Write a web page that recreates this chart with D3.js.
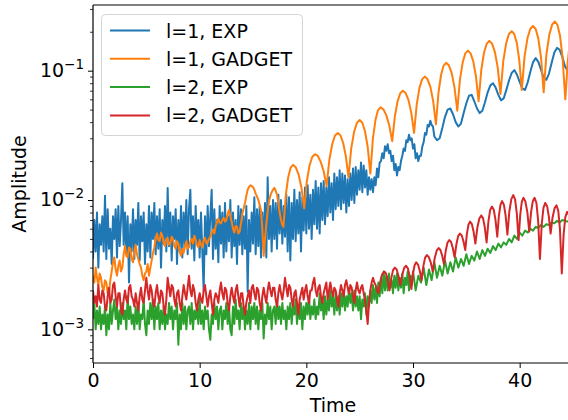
<!DOCTYPE html>
<html><head><meta charset="utf-8">
<script src="https://cdn.jsdelivr.net/npm/d3@7"></script>
<style>body{margin:0;background:#fff}svg{display:block;font-family:"DejaVu Sans",sans-serif}</style>
</head><body><svg id="c" width="568" height="420"></svg>
<script>
// ---------- data (amplitudes in units of 1e-3) ----------
const seriesNames = ["l=1, EXP", "l=1, GADGET", "l=2, EXP", "l=2, GADGET"];
const seriesColors = ["#1f77b4", "#ff7f0e", "#2ca02c", "#d62728"];
const denseStep = 0.125;  // sample spacing of the noisy early parts (start at t = 0)
const coarseStep = 0.25;  // sample spacing of the smoother EXP late parts

// l=1 EXP
const expL1Early = [
 3.5,7.0,4.0,8.0,3.0,6.5,4.5,7.5,
 4.0,10.8,3.5,8.5,4.2,6.0,3.2,7.5,
 5.0,8.5,3.6,9.0,4.4,7.0,13.5,4.5,
 8.0,3.8,7.5,2.3,6.5,4.0,8.5,3.5,
 7.0,4.5,9.5,3.4,7.5,4.8,8.0,3.2,
 6.5,4.0,9.0,3.6,8.0,5.0,9.5,3.8,
 7.5,4.2,8.5,3.0,7.0,4.6,9.0,4.0,
 12.4,4.4,8.0,3.4,7.5,5.0,8.5,3.2,
 7.0,4.0,9.0,3.6,8.0,4.5,10.0,3.8,
 8.5,12.0,4.2,7.5,3.4,9.0,4.6,7.0,
 3.6,8.0,4.0,2.0,7.5,3.8,9.0,4.4,
 7.5,12.0,3.5,8.5,4.2,7.0,3.3,9.0,
 4.6,8.0,3.6,9.5,4.0,7.5,4.8,10.0,
 3.6,8.0,4.4,7.0,3.2,9.0,4.5,8.5,
 3.8,7.5,4.2,9.0,1.95,7.0,4.0,8.0,
 4.6,10.5,3.8,8.5,4.4,9.0,3.6,8.0,
 4.2,9.5,3.6,15.0,5.0,9.0,4.0,10.0,
 5.0,9.5,4.2,11.0,5.5,10.0,4.6,9.0,
 5.2,11.0,4.0,10.5,3.4,9.5,5.0,12.0,
 4.8,10.0,5.5,11.5,4.0,10.5,5.8,12.5,
 5.5,13.0,6.0,11.0,5.0,12.0,6.5,14.0,
 6.0,12.5,5.5,13.5,7.0,14.0,6.5,12.5,
 7.5,15.0,8.0,13.5,7.0,16.0,8.5,15.0,
 9.0,17.0,8.5,16.0,9.5,15.5,8.0,14.5,
 9.0,16.0,10.0,17.5,9.5,18.0,11.0,17.0,
 12.0,19.5,11.5,18.5,12.5,17.0,11.0,15.0,
 12.0,14.5,11.5,15.0,13.0,17.5,15.0,19.5,
 20.0,23.0,21.0,26.0,24.0,27.0,23.0,24.0,
 20.0,22.0,17.0,19.0,15.5,18.0,17.0,20.0,
 22.0,25.0,24.0,29.0,28.0,32.0,29.0,30.0,
 25.0,27.0,21.0,23.0,20.0,22.0,22.0,26.0,
 28.0,33.0,32.0,38.0,37.0,41.0,38.0,37.0
];
const expL1LateStart = 32;
const expL1Late = [
 31.0,29.0,30.0,36.0, 44.0,50.0,51.0,46.0, 40.0,37.0,39.0,47.0,
 56.0,64.0,65.0,58.0, 51.0,47.0,49.0,57.0, 68.0,77.0,80.0,74.0, 65.0,59.0,61.0,71.0,
 84.0,96.0,101.0,93.0, 82.0,73.0,71.0,81.0, 98.0,116.0,125.0,117.0, 102.0,88.0,85.0,95.0,
 115.0,138.0,150.0,145.0, 128.0,108.0,100.0,110.0, 125.0
];

// l=2 EXP
const expL2Early = [
 1.2,1.6,1.0,1.4,1.1,1.5,1.0,1.3,
 1.1,1.5,0.9,1.3,1.0,1.6,1.1,1.4,
 1.7,1.2,1.5,1.0,1.4,1.1,1.6,1.2,
 1.4,1.0,1.8,1.2,1.5,1.1,1.3,1.0,
 1.5,1.1,1.6,1.0,1.3,1.2,1.7,1.1,
 0.9,1.4,1.1,1.6,1.2,1.7,1.0,1.5,
 1.2,1.6,1.0,1.4,1.1,1.5,1.0,1.3,
 1.1,1.6,1.2,1.5,1.0,1.4,1.2,1.6,
 0.76,1.3,1.0,1.6,1.1,1.5,1.0,1.4,
 1.5,1.1,1.6,1.0,1.4,1.2,1.5,1.1,
 1.7,1.1,1.4,1.0,1.5,1.2,1.4,1.0,
 0.83,1.3,1.1,1.6,1.2,1.5,1.0,1.4,
 1.5,1.0,1.4,1.2,1.6,1.1,1.5,1.0,
 0.9,1.5,1.1,1.7,1.2,1.4,1.0,1.6,
 1.2,1.5,1.0,1.4,1.1,1.6,1.0,1.5,
 1.2,1.6,1.1,1.5,1.0,1.4,1.2,1.6,
 0.85,1.3,1.1,1.6,1.2,1.5,1.0,1.4,
 1.5,1.1,1.7,1.2,1.5,1.1,1.6,1.2,
 1.4,1.0,1.5,1.2,1.6,1.1,1.5,1.3,
 1.7,1.1,1.5,1.2,1.6,1.0,1.5,1.2,
 1.6,1.3,1.8,1.2,1.5,1.3,1.7,1.2,
 1.5,1.3,1.9,1.4,1.7,1.2,1.8,1.3,
 1.7,1.4,2.0,1.5,1.8,1.3,1.9,1.4,
 1.8,1.3,1.9,1.5,2.0,1.4,1.8,1.5,
 2.1,1.6,1.9,1.4,2.0,1.5,1.8,1.4,
 1.8,1.2,1.7,1.5,1.9,1.3,1.8,1.5,
 2.0,1.6,2.2,1.7,2.1,1.6,2.3,1.8,
 2.5,1.9,2.8,2.0,2.6,2.0,2.7,2.1,
 2.4,1.9,2.6,2.1,2.7,2.0,2.5,2.1,
 2.7,1.9,2.5,2.2,2.8,2.0,2.6,2.2
];
const expL2LateStart = 30;
const expL2Late = [
 2.8,2.0,2.6,2.3, 3.0,2.2,2.9,2.4, 3.3,2.5,3.1,2.6, 3.4,2.7,3.3,2.8, 3.6,3.0,3.5,3.1,
 3.8,3.2,3.7,3.4, 4.0,3.5,4.1,3.7, 4.2,3.9,4.4,4.1, 4.6,4.3,4.7,4.5, 5.0,4.7,5.3,5.0,
 5.6,5.3,5.8,5.6, 6.0,5.8,6.2,6.1, 6.4,6.2,6.5,6.4, 6.7,6.6,6.9,6.7, 7.0,6.9,6.8,7.0,
 6.9
];

// l=1 GADGET: noisy start, then [time, value] points of the oscillation
const gadL1Early = [
 2.6,2.3,3.0,2.5,2.2,2.7,2.5,2.1,
 2.0,2.4,2.3,1.9,1.9,2.4,2.8,3.3,
 3.6,2.9,2.6,3.1,3.4,2.8,3.0,3.8,
 4.4,3.7,3.6,4.3,4.2,3.5,3.3,4.0,
 4.5,3.8,3.5,3.2,3.0,2.6,2.4,2.7,
 2.8,3.2,2.6,3.0,3.4,3.9,4.3,5.0,
 5.5,4.9,4.8,5.6,5.3,4.6,4.4,5.0,
 5.1,4.5,4.6,5.2,5.0,4.4,4.2,4.8,
 4.6,4.0,3.7,4.2,3.9,4.4,4.8,4.2,
 4.3,4.8,5.0,4.6,5.3,4.9,4.5,4.3,
 4.9,4.5,4.3,4.9,5.1,4.6,4.7,5.0,
 5.2,5.6,5.9,5.5,6.3,6.8,7.2,6.7,
 6.6,7.0,7.3,6.8,7.0,7.8,8.4,7.5,
 6.8,6.0,5.6,6.3,6.2,5.5,5.7,6.6,
 7.8,8.6,9.5,10.8,12.0,12.6,13.0,12.8,
 12.6,12.0,11.2,10.6,10.0,9.2,8.3,6.0,
 3.7,5.0,6.5,8.2,9.8,10.8,11.5,12.0,
 12.4,11.8,11.0,9.5,8.0,7.0,6.4
];
const gadL1Late = [
 [17.85,6.2],[18.08,11.0],[18.3,15.0],[18.53,17.8],[18.75,18.7],[19.01,17.9],[19.28,15.7],[19.54,12.5],[19.8,8.6],
 [20.05,14.0],[20.3,18.5],[20.55,21.5],[20.8,22.6],[21.08,21.9],[21.35,19.7],[21.63,16.6],[21.9,12.8],
 [22.16,20.5],[22.43,27.1],[22.69,31.5],[22.95,33],[23.2,31.6],[23.45,27.7],[23.7,21.9],[23.95,15],
 [24.21,25.1],[24.48,33.7],[24.74,39.5],[25.0,41.5],[25.25,39.6],[25.5,34],[25.75,25.8],[26.0,16],
 [26.24,29.8],[26.48,41.5],[26.71,49.3],[26.95,52],[27.23,50.2],[27.5,45.1],[27.78,37.5],[28.05,28.5],
 [28.3,44.4],[28.55,57.8],[28.8,66.8],[29.05,70],[29.31,67.2],[29.58,59.2],[29.84,47.2],[30.1,33],
 [30.35,54.8],[30.6,73.3],[30.85,85.7],[31.1,90],[31.36,86.1],[31.63,74.9],[31.89,58.2],[32.15,38.5],
 [32.39,67.8],[32.63,92.6],[32.86,109],[33.1,115],[33.36,110],[33.63,95.7],[33.89,74.3],[34.15,49],
 [34.4,85],[34.65,115],[34.9,136],[35.15,143],[35.4,136],[35.65,118],[35.9,90.6],[36.15,58],
 [36.4,101],[36.65,137],[36.9,161],[37.15,170],[37.41,162],[37.68,139],[37.94,106],[38.2,66],
 [38.46,118],[38.73,162],[38.99,192],[39.25,202],[39.49,192],[39.73,164],[39.96,121],[40.2,71],
 [40.46,129],[40.73,178],[40.99,210],[41.25,222],[41.5,210],[41.75,177],[42.0,127],[42.25,68],
 [42.51,134],[42.78,190],[43.04,227],[43.3,240],[43.54,226],[43.78,187],[44.01,129],[44.28,60],
 [44.5,115],[44.75,180],[45.0,225]
];

// l=2 GADGET
const gadL2Early = [
 2.0,1.6,1.8,1.5,2.2,1.7,1.6,2.0,
 1.9,1.5,1.4,1.8,2.1,1.6,1.7,2.2,
 2.3,1.8,1.5,1.9,1.9,1.4,1.3,1.7,
 2.0,1.7,1.6,2.1,2.2,1.8,1.7,1.5,
 1.9,1.6,1.4,1.8,2.1,1.7,1.6,2.0,
 2.5,2.0,1.7,2.2,2.0,1.6,1.5,1.9,
 2.2,1.8,1.6,2.0,1.9,1.5,1.3,1.7,
 2.5,2.1,1.8,2.2,2.1,1.7,1.5,1.9,
 2.0,1.6,1.4,1.8,2.2,1.9,1.7,2.1,
 2.6,2.0,1.8,2.2,2.0,1.6,1.4,1.7,
 1.9,1.7,1.6,2.0,2.2,1.8,1.5,1.8,
 2.0,1.6,1.3,1.7,1.9,1.8,1.6,2.0,
 2.3,1.9,1.7,2.1,2.0,1.6,1.4,1.8,
 2.1,1.8,1.6,2.0,2.2,1.8,1.5,1.9,
 1.9,1.5,1.3,1.6,1.8,2.0,1.6,2.1,
 2.2,1.9,1.7,2.1,2.0,1.6,1.4,1.8,
 2.1,1.8,1.6,2.0,2.3,2.0,1.8,2.1,
 2.1,1.7,1.5,1.9,2.2,1.9,1.7,2.0,
 2.5,2.1,1.8,2.2,2.1,1.7,1.5,1.9,
 2.0,1.6,1.3,1.7,1.9,2.1,1.7,2.0,
 2.2,1.8,1.6,2.0,2.0,2.3,2.5,2.0,
 1.8,2.1,2.2,1.8,1.6,1.9,2.1,2.3,
 1.7,2.0,2.3,2.0,1.8,2.1,2.0,1.7,
 1.5,1.9,2.2,2.0,1.8,2.2,2.4,2.1,
 1.9,2.2,2.1,1.8,1.6,2.0,2.3,2.0,
 1.9,2.1,2.2,1.9,1.7,1.4,1.1,1.6,
 2.0,2.3,2.5,2.3,2.2,2.0,1.9
];
const gadL2Late = [
 [26.95,2.35],[27.1,2.65],[27.3,2.8],[27.47,2.7],[27.63,2.4],[27.8,2.0],
 [27.97,2.5],[28.13,2.87],[28.3,3.0],[28.47,2.9],[28.63,2.6],[28.8,2.2],
 [29.0,2.65],[29.17,2.98],[29.35,3.1],[29.52,2.96],[29.68,2.58],[29.85,2.05],
 [30.0,2.7],[30.15,3.13],[30.3,3.3],[30.47,3.17],[30.63,2.85],[30.8,2.4],
 [30.97,3.08],[31.13,3.57],[31.3,3.75],[31.48,3.62],[31.67,3.28],[31.85,2.8],
 [32.03,3.53],[32.22,4.06],[32.4,4.25],[32.57,4.11],[32.73,3.73],[32.9,3.2],
 [33.07,4.05],[33.23,4.67],[33.4,4.9],[33.57,4.73],[33.73,4.25],[33.9,3.6],
 [34.07,4.55],[34.23,5.25],[34.4,5.5],[34.57,5.31],[34.73,4.8],[34.9,4.1],
 [35.05,5.45],[35.2,6.44],[35.35,6.8],[35.52,6.5],[35.68,5.7],[35.85,4.6],
 [36.03,6.1],[36.22,7.2],[36.4,7.6],[36.57,7.21],[36.73,6.15],[36.9,4.7],
 [37.07,6.8],[37.23,8.34],[37.4,8.9],[37.57,8.4],[37.73,7.05],[37.9,5.2],
 [38.05,7.5],[38.2,9.18],[38.35,9.8],[38.52,9.21],[38.68,7.6],[38.85,5.4],
 [39.03,8.15],[39.22,10.16],[39.4,10.9],[39.57,10.1],[39.73,7.9],[39.9,4.9],
 [40.05,7.65],[40.2,9.66],[40.35,10.4],[40.53,9.77],[40.72,8.05],[40.9,5.7],
 [41.07,8.05],[41.23,9.77],[41.4,10.4],[41.57,9.48],[41.73,6.95],[41.9,3.5],
 [42.07,6.5],[42.23,8.7],[42.4,9.5],[42.57,8.96],[42.73,7.5],[42.9,5.5],
 [43.08,7.3],[43.27,8.62],[43.45,9.1],[43.62,8.24],[43.78,5.9],[43.95,2.7],
 [44.12,5.4],[44.28,7.38],[44.45,8.1],[44.62,7.68],[44.78,6.55],[44.95,5.0]
];

const xTicks = [0, 10, 20, 30, 40];
const yTickExponents = [-3, -2, -1];
const xLabel = "Time", yLabel = "Amplitude";

// ---------- build ----------
const seq = (arr, t0, step) => arr.map((v, i) => [t0 + i * step, v]);
const series = [
  seq(expL1Early, 0, denseStep).concat(seq(expL1Late, expL1LateStart, coarseStep)),
  seq(gadL1Early, 0, denseStep).concat(gadL1Late),
  seq(expL2Early, 0, denseStep).concat(seq(expL2Late, expL2LateStart, coarseStep)),
  seq(gadL2Early, 0, denseStep).concat(gadL2Late)
];

const svg = d3.select("#c");
const L = 93, R = 573, T = 5, B = 363;
const x = d3.scaleLinear().domain([0, 45]).range([L, R]);
const y = d3.scaleLog().domain([5.49e-4, 0.322]).range([B, T]);

svg.append("defs").append("clipPath").attr("id", "clip")
  .append("rect").attr("x", L).attr("y", T).attr("width", R - L).attr("height", B - T);

const line = d3.line().x(d => x(d[0])).y(d => y(d[1] / 1000));
const plot = svg.append("g").attr("clip-path", "url(#clip)");
series.forEach((s, i) => {
  plot.append("path").datum(s).attr("d", line)
    .attr("fill", "none").attr("stroke", seriesColors[i])
    .attr("stroke-width", 2).attr("stroke-linejoin", "round");
});

// x axis
const xAxis = svg.append("g").attr("transform", `translate(0,${B})`)
  .call(d3.axisBottom(x).tickValues(xTicks).tickSize(5).tickSizeOuter(0).tickFormat(d3.format("d")));
xAxis.select(".domain").remove();
xAxis.selectAll(".tick line").attr("stroke", "#000").attr("stroke-width", 1);
xAxis.selectAll(".tick text").attr("font-size", 19).attr("font-family", "DejaVu Sans")
  .attr("fill", "#000").attr("y", 24).attr("dy", 0);

// y axis major
const yMajor = yTickExponents.map(e => Math.pow(10, e));
const yAxis = svg.append("g").attr("transform", `translate(${L},0)`)
  .call(d3.axisLeft(y).tickValues(yMajor).tickSize(5).tickSizeOuter(0).tickFormat(""));
yAxis.select(".domain").remove();
yAxis.selectAll(".tick line").attr("stroke", "#000").attr("stroke-width", 1);
yAxis.selectAll(".tick text").remove();
yAxis.selectAll(".tick").each(function(d, i) {
  const t = d3.select(this).append("text").attr("x", -9).attr("y", 6)
    .attr("text-anchor", "end").attr("fill", "#000").attr("font-size", 19)
    .attr("font-family", "DejaVu Sans");
  t.append("tspan").text("10");
  t.append("tspan").attr("font-size", 13.5).attr("dy", -8).text("\u2212" + Math.abs(yTickExponents[i]));
});
// y axis minor
const yMinor = [];
[-4, -3, -2, -1].forEach(e => { for (let k = 2; k <= 9; k++) { const v = k * Math.pow(10, e); if (v > y.domain()[0] && v < y.domain()[1]) yMinor.push(v); } });
svg.append("g").attr("transform", `translate(${L},0)`)
  .call(d3.axisLeft(y).tickValues(yMinor).tickSize(3).tickSizeOuter(0).tickFormat(""))
  .call(g => g.select(".domain").remove())
  .call(g => g.selectAll(".tick line").attr("stroke", "#000").attr("stroke-width", 0.8));

// spines
[[L, T, L, B], [L, B, R, B], [L, T, R, T], [R, T, R, B]].forEach(([x1, y1, x2, y2]) =>
  svg.append("line").attr("x1", x1).attr("y1", y1).attr("x2", x2).attr("y2", y2)
    .attr("stroke", "#000").attr("stroke-width", 1.2));

// axis labels
svg.append("text").attr("x", (L + R) / 2).attr("y", 412).attr("text-anchor", "middle")
  .attr("font-size", 19).attr("fill", "#000").text(xLabel);
svg.append("text").attr("transform", `translate(26,${(T + B) / 2}) rotate(-90)`).attr("text-anchor", "middle")
  .attr("font-size", 19).attr("fill", "#000").text(yLabel);

// legend
const lg = svg.append("g");
lg.append("rect").attr("x", 101.5).attr("y", 14.5).attr("width", 201).attr("height", 121).attr("rx", 4)
  .attr("fill", "#fff").attr("fill-opacity", 0.8).attr("stroke", "#d4d4d4").attr("stroke-width", 1);
seriesNames.forEach((n, i) => {
  const cy = 30.5 + 28.3 * i;
  lg.append("line").attr("x1", 110).attr("x2", 150).attr("y1", cy).attr("y2", cy)
    .attr("stroke", seriesColors[i]).attr("stroke-width", 2);
  lg.append("text").attr("x", 166).attr("y", cy + 7).attr("font-size", 19).attr("fill", "#000").text(n);
});
</script></body></html>
